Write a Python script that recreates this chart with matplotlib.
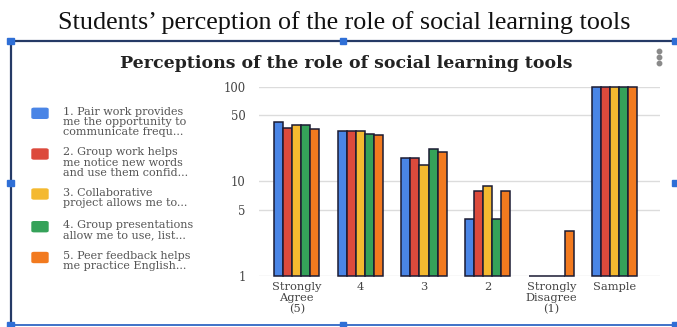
import numpy as np
import matplotlib.pyplot as plt
from matplotlib.lines import Line2D
from matplotlib.patches import Rectangle, FancyBboxPatch

W, H = 677, 327

categories = ["Strongly\nAgree\n(5)", "4", "3", "2", "Strongly\nDisagree\n(1)", "Sample"]
pair_work = [42, 34, 17.6, 4, 1, 100]
group_work = [37, 34, 17.6, 8, 1, 100]
collab_project = [39, 34, 15, 9, 1, 100]
presentations = [39, 32, 22, 4, 1, 100]
peer_feedback = [36, 31, 20.5, 8, 3, 100]

series_labels = [
    "1. Pair work provides\nme the opportunity to\ncommunicate frequ...",
    "2. Group work helps\nme notice new words\nand use them confid...",
    "3. Collaborative\nproject allows me to...",
    "4. Group presentations\nallow me to use, list...",
    "5. Peer feedback helps\nme practice English...",
]
series = [pair_work, group_work, collab_project, presentations, peer_feedback]
colors = ["#4a85e6", "#dc4a3c", "#f4b930", "#35a259", "#f27a1f"]
yticks = [1, 5, 10, 50, 100]


def fx(px):
    return px / W


def fy(py):
    return 1 - py / H


fig = plt.figure(figsize=(W / 100, H / 100), dpi=100)
fig.patch.set_facecolor("white")

# heading above the chart
fig.text(fx(344), fy(23), "Students\u2019 perception of the role of social learning tools",
         ha="center", va="center", fontsize=18.8, family="Liberation Serif", color="#111111")

# selection frame around the embedded chart
navy = "#253a66"
blue = "#3f72c8"
fig.add_artist(Line2D([fx(10), fx(674)], [fy(41), fy(41)], color=navy, lw=1.6))
fig.add_artist(Line2D([fx(11), fx(11)], [fy(41), fy(325)], color=navy, lw=1.6))
fig.add_artist(Line2D([fx(10), fx(674)], [fy(325), fy(325)], color=blue, lw=1.4))
for hx, hy in [(10, 41), (343, 41), (675, 41), (10, 183), (675, 183),
               (10, 325), (343, 325), (675, 325)]:
    fig.add_artist(Rectangle((fx(hx - 3.5), fy(hy + 3)), 7 / W, 6 / H,
                             color="#2f6fd6", zorder=5))

# chart menu dots
for dy in (51, 57, 63):
    fig.add_artist(Line2D([fx(659)], [fy(dy)], marker="o", ms=3.2,
                          color="#8a8a8a", mec="#8a8a8a"))

fig.text(fx(346), fy(63), "Perceptions of the role of social learning tools",
         ha="center", va="center", fontsize=12.5, family="DejaVu Serif",
         weight="bold", color="#222222")

# plot area
ax = fig.add_axes([fx(259), fy(276), (660 - 259) / W, (276 - 86.7) / H])
x = np.arange(len(categories))
bw = 0.142
for i, (vals, c) in enumerate(zip(series, colors)):
    vals = np.array(vals, dtype=float)
    ax.bar(x + (i - 2) * bw, vals - 1, bottom=1, width=bw, color=c,
           edgecolor="#1b1b33", linewidth=1.1, zorder=3, clip_on=False)

ax.set_yscale("log")
ax.set_ylim(1, 100)
ax.set_xlim(-0.594, 5.71)
ax.set_yticks(yticks)
ax.set_yticklabels([str(t) for t in yticks])
ax.yaxis.set_minor_locator(plt.NullLocator())
ax.set_xticks(x)
ax.set_xticklabels(categories, linespacing=1.1)
ax.grid(axis="y", color="#dcdcdc", lw=1.0)
ax.set_axisbelow(True)
for s in ax.spines.values():
    s.set_visible(False)
ax.tick_params(length=0)
ax.tick_params(axis="y", pad=9.5, labelsize=8.4, labelcolor="#444444")
ax.tick_params(axis="x", pad=4.5, labelsize=8.2, labelcolor="#444444")
for lab in ax.get_xticklabels() + ax.get_yticklabels():
    lab.set_family("DejaVu Serif")

# legend drawn beside the plot
entry_y = [113.3, 154, 194, 226.7, 257.5]
for lab, c, ey in zip(series_labels, colors, entry_y):
    fig.add_artist(FancyBboxPatch((fx(32), fy(ey + 5)), 16 / W, 10 / H,
                                  boxstyle="round,pad=0,rounding_size=0.003",
                                  color=c, transform=fig.transFigure))
    fig.text(fx(63), fy(ey - 6.5), lab, ha="left", va="top", fontsize=8.0,
             family="DejaVu Serif", color="#555555", linespacing=1.02)

fig.savefig("out.png", dpi=100)
